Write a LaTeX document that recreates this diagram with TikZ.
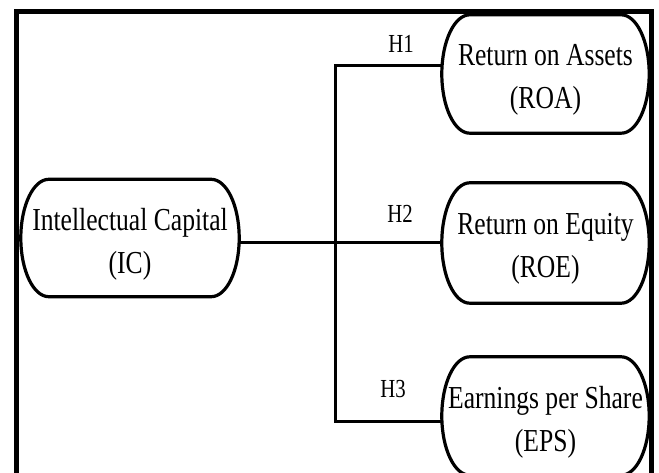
\documentclass[tikz,border=0pt]{standalone}
\usepackage{fontspec}
\setmainfont{Liberation Serif}
\newfontfamily\estrecha[FakeStretch=0.8]{Liberation Serif}
\usetikzlibrary{calc}

\tikzset{
  caja/.style={minimum width=207pt, minimum height=118pt, inner sep=0pt,
    align=center, font=\estrecha\fontsize{32}{43}\selectfont},
  hipotesis/.style={font=\estrecha\fontsize{26}{30}\selectfont},
  borde/.style={line width=3.2pt},
  enlace/.style={line width=3pt},
  marco/.style={line width=5pt}
}

% Contorno ovalado de una variable (6pt por encima del texto)
\newcommand{\ovalo}[1]{%
  \draw[borde] let \p1=(#1.north east), \p2=(#1.south west), \n1={0.5*(\y1-\y2)} in
    (\x2+28pt,\y1+6pt) -- (\x1-28pt,\y1+6pt)
    arc[start angle=90, end angle=-90, x radius=28pt, y radius=\n1]
    -- (\x2+28pt,\y2+6pt)
    arc[start angle=270, end angle=90, x radius=28pt, y radius=\n1] -- cycle;}

\begin{document}
\begin{tikzpicture}[x=1pt, y=1pt]

    \useasboundingbox (0,0) rectangle (659,472);
    \clip (0,0) rectangle (659,472);

    % Marco
    \draw[marco] (16,-10) -- (16,460) -- (651,460) -- (651,-10);

    % Variable independiente
    \node[caja, minimum width=218pt, minimum height=117pt] (ic) at (130,228)
        {Intellectual Capital\\(IC)};

    % Variables dependientes
    \node[caja] (roa) at (545.5,392) {Return on Assets\\(ROA)};
    \node[caja, minimum height=120pt] (roe) at (545.5,223) {Return on Equity\\(ROE)};
    \node[caja] (eps) at (545.5,50) {Earnings per Share\\(EPS)};

    \ovalo{ic}
    \ovalo{roa}
    \ovalo{roe}
    \ovalo{eps}

    % Conexiones
    \coordinate (tronco) at (335,229);
    \draw[enlace] (ic.east |- tronco) -- (roe.west |- tronco);
    \draw[enlace] (roa.west |- 0,406) -| (tronco) |- (eps.west |- 0,50.5);

    % Hipotesis
    \node[hipotesis] (h1) at (401,428) {H1};
    \node[hipotesis] (h2) at (400,258) {H2};
    \node[hipotesis] (h3) at (393,83) {H3};

\end{tikzpicture}
\end{document}
